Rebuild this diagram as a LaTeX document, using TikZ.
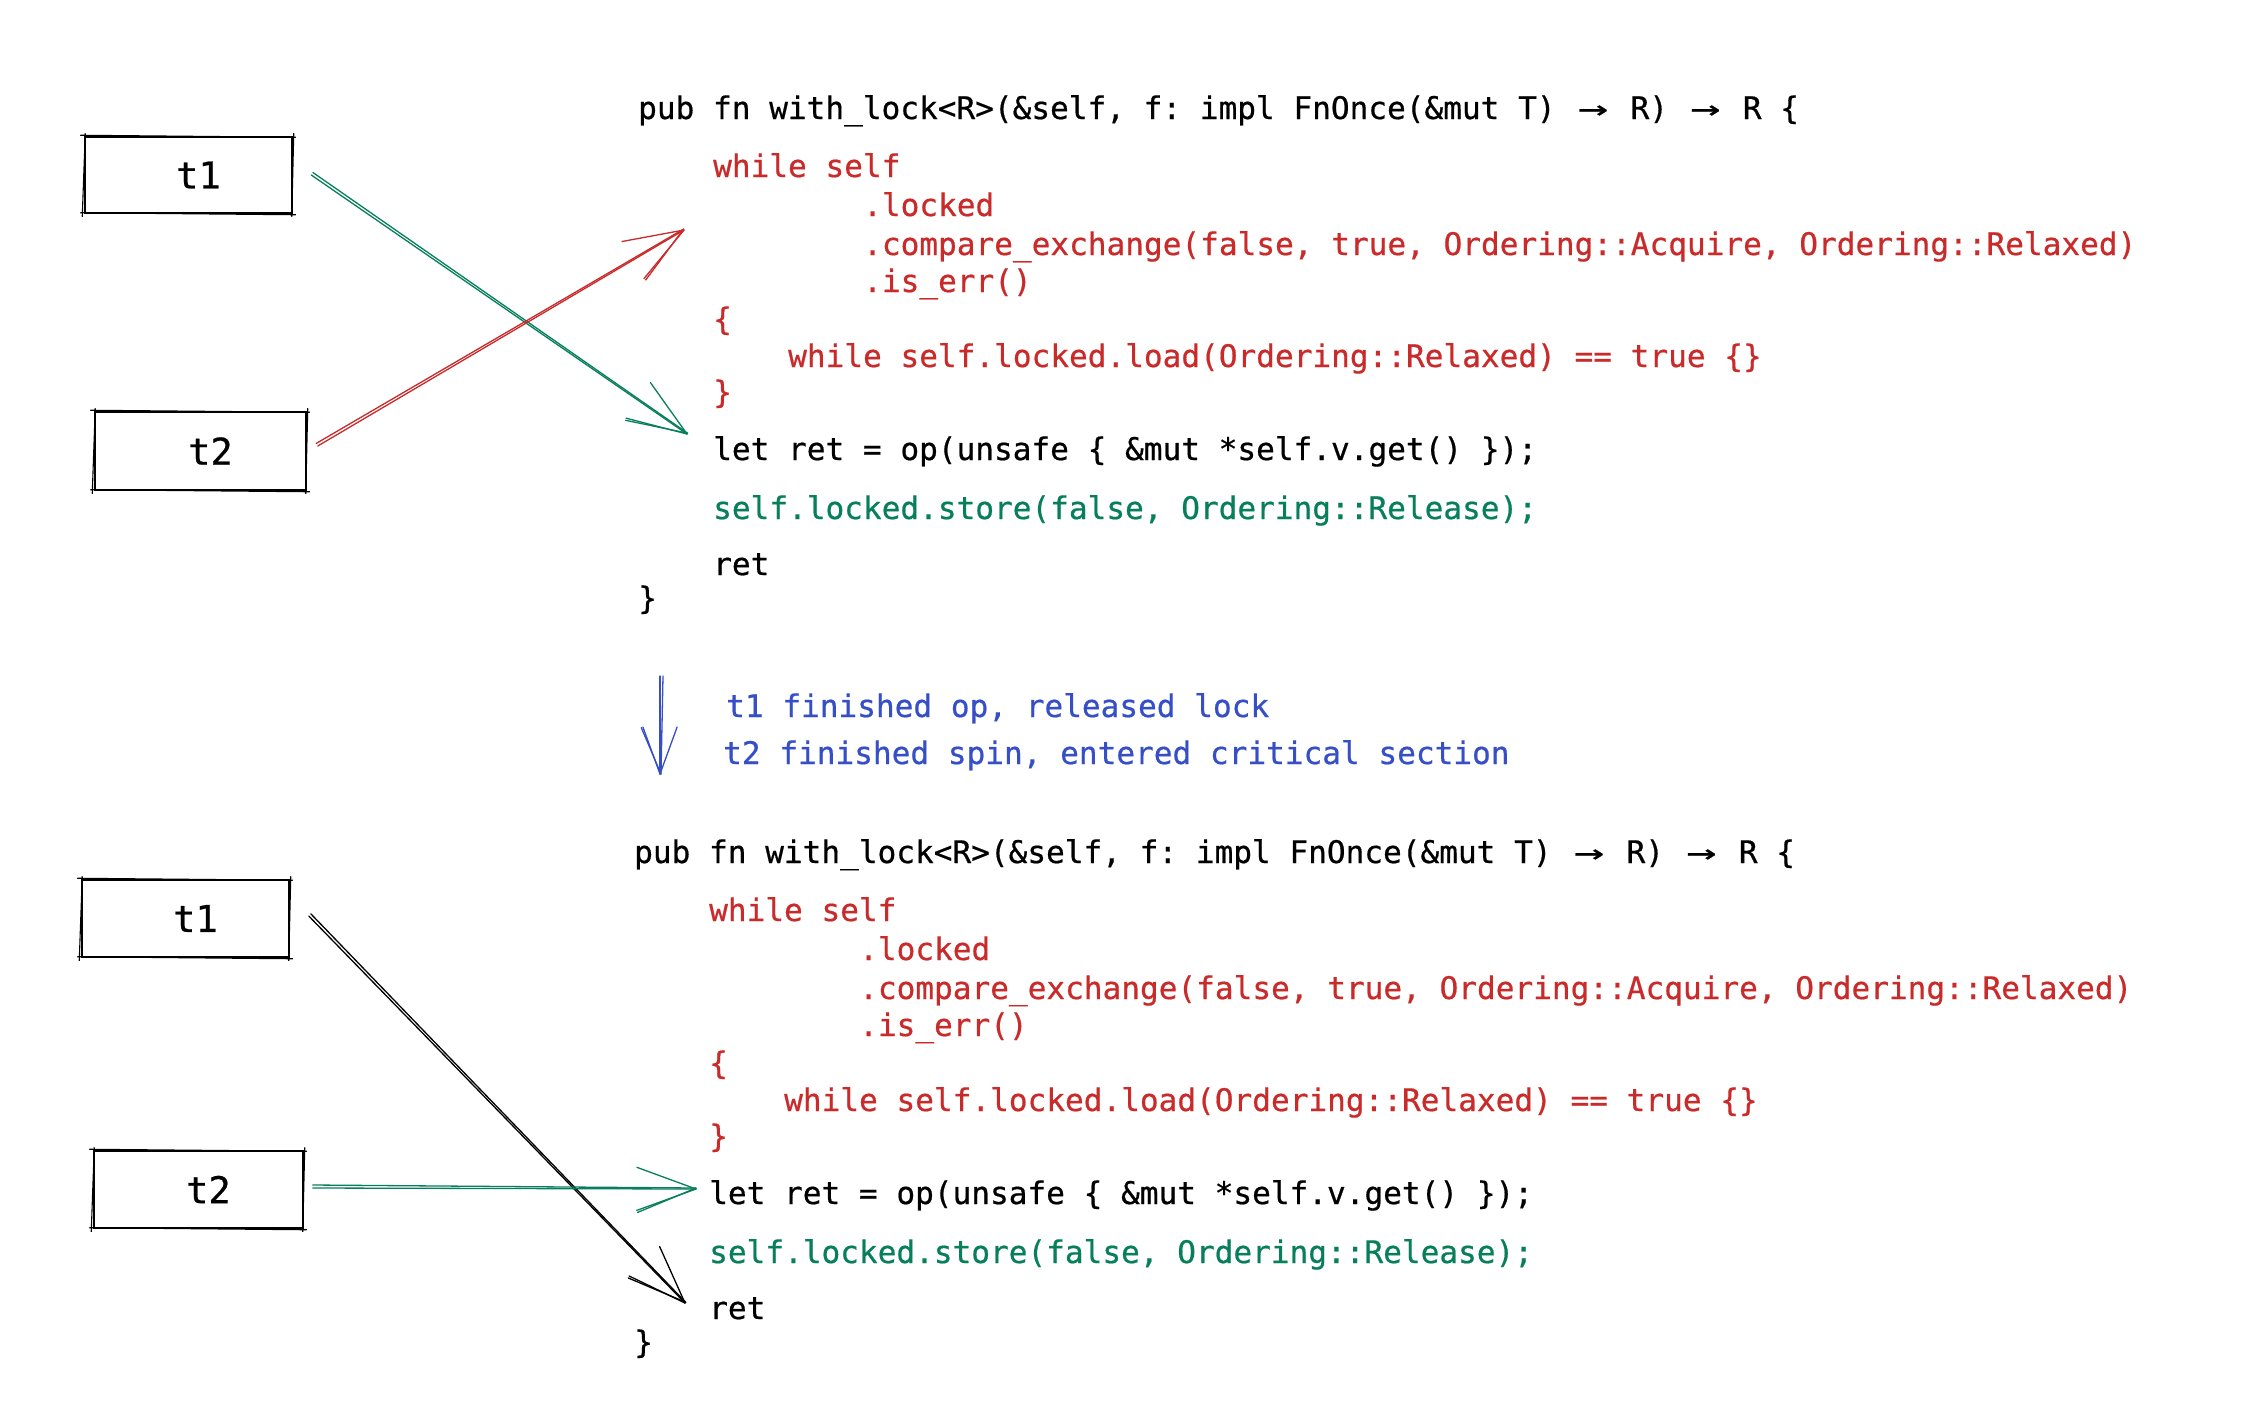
\documentclass[tikz,border=0pt]{standalone}
\usepackage{fontspec}
\usepackage{graphicx}
\setmonofont[FakeBold=0.6]{DejaVu Sans Mono}
\usetikzlibrary{calc}
\definecolor{exred}{HTML}{C92A2A}
\definecolor{exgreen}{HTML}{087F5B}
\definecolor{exblue}{HTML}{364FC7}
\newcommand\codefont{\ttfamily\fontsize{31.1}{38}\selectfont\frenchspacing}
\newcommand\rarr{\makebox[1.204em]{\scalebox{1.6}[1]{→}}}
\newcommand\skarrow[4][]{%
  \draw[sk,#1] (#2) -- (#3);
  \draw[sk,#1] ($(#2)!3pt!90:(#3)$) -- ($(#3)!1pt!-90:(#2)$);
  \draw[sk,#1] (#3) -- ($(#3)!#4!20:(#2)$);
  \draw[sk,#1] ($(#3)!1pt!-90:(#2)$) -- ($(#3)!#4!22:(#2)$);
  \draw[sk,#1] (#3) -- ($(#3)!#4!-20:(#2)$);
}
\newcommand\rough[1]{%
  \draw[line width=1.1pt]
    ([shift={(-4,-1)}]#1.north west) -- ([shift={(3,1)}]#1.north east)
    ([shift={(1,-3)}]#1.north east) -- ([shift={(-1,3)}]#1.south east)
    ([shift={(3,1)}]#1.south east) -- ([shift={(-4,-1)}]#1.south west)
    ([shift={(-2,3)}]#1.south west) -- ([shift={(1,-3)}]#1.north west);
}
\begin{document}
\begin{tikzpicture}[x=1pt,y=-1pt,
  code/.style={anchor=base west, inner sep=0pt, font=\codefont},
  tbox/.style={draw=black, line width=1.5pt, inner sep=0pt,
               font=\ttfamily\fontsize{37}{40}\selectfont},
  sk/.style={line width=1.3pt, line cap=round, line join=round}]
\fill[white] (0,0) rectangle (2248,1400);
\useasboundingbox (0,0) rectangle (2248,1400);

% ---------- top half ----------
\node[tbox, minimum width=207pt, minimum height=76pt] (t1a) at (188.5,175) {\hspace*{20pt}t1};
\node[tbox, minimum width=211pt, minimum height=78pt] (t2a) at (200.5,451) {\hspace*{20pt}t2};
\rough{t1a}
\rough{t2a}

\node[code] (a1) at (638,119) {pub fn with\_lock<R>(\&self, f: impl FnOnce(\&mut T) \rarr{} R) \rarr{} R \{};
\node[code, text=exred] (a2) at (713,177) {while self};
\node[code, text=exred] (a3) at (863,216) {.locked};
\node[code, text=exred] (a4) at (863,255) {.compare\_exchange(false, true, Ordering::Acquire, Ordering::Relaxed)};
\node[code, text=exred] (a5) at (863,292) {.is\_err()};
\node[code, text=exred] (a6) at (713,330) {\{};
\node[code, text=exred] (a7) at (788,367) {while self.locked.load(Ordering::Relaxed) == true \{\}};
\node[code, text=exred] (a8) at (713,403) {\}};
\node[code] (a9) at (713,460) {let ret = op(unsafe \{ \&mut *self.v.get() \});};
\node[code, text=exgreen] (a10) at (713,519) {self.locked.store(false, Ordering::Release);};
\node[code] (a11) at (713,575) {ret};
\node[code] (a12) at (638,609) {\}};

\coordinate (ga) at ([xshift=18.5]t1a.east);
\coordinate (gae) at (687,434);
\coordinate (ra) at ([shift={(11,-5)}]t2a.east);
\coordinate (rae) at (684,230);
\skarrow[exgreen]{ga}{gae}{63pt}
\skarrow[exred]{ra}{rae}{63pt}

% ---------- middle ----------
\coordinate (bs) at (660,676);
\coordinate (be) at (660,774);
\skarrow[exblue]{bs}{be}{50pt}
\node[code, text=exblue] (m1) at (726,717) {t1 finished op, released lock};
\node[code, text=exblue] (m2) at (723,764) {t2 finished spin, entered critical section};

% ---------- bottom half ----------
\node[tbox, minimum width=207pt, minimum height=77pt] (t1b) at (185.5,918.5) {\hspace*{20pt}t1};
\node[tbox, minimum width=209pt, minimum height=77pt] (t2b) at (198.5,1189.5) {\hspace*{20pt}t2};
\rough{t1b}
\rough{t2b}

\node[code] (b1) at (634,863) {pub fn with\_lock<R>(\&self, f: impl FnOnce(\&mut T) \rarr{} R) \rarr{} R \{};
\node[code, text=exred] (b2) at (709,921) {while self};
\node[code, text=exred] (b3) at (859,960) {.locked};
\node[code, text=exred] (b4) at (859,999) {.compare\_exchange(false, true, Ordering::Acquire, Ordering::Relaxed)};
\node[code, text=exred] (b5) at (859,1036) {.is\_err()};
\node[code, text=exred] (b6) at (709,1074) {\{};
\node[code, text=exred] (b7) at (784,1111) {while self.locked.load(Ordering::Relaxed) == true \{\}};
\node[code, text=exred] (b8) at (709,1147) {\}};
\node[code] (b9) at (709,1204) {let ret = op(unsafe \{ \&mut *self.v.get() \});};
\node[code, text=exgreen] (b10) at (709,1263) {self.locked.store(false, Ordering::Release);};
\node[code] (b11) at (709,1319) {ret};
\node[code] (b12) at (634,1353) {\}};

\coordinate (kb) at ([shift={(19,-2.5)}]t1b.east);
\coordinate (kbe) at (685,1303);
\coordinate (gb) at ([shift={(9,-1.5)}]t2b.east);
\coordinate (gbe) at (696,1189);
\skarrow[black]{kb}{kbe}{62pt}
\skarrow[exgreen]{gb}{gbe}{63pt}
\end{tikzpicture}
\end{document}
